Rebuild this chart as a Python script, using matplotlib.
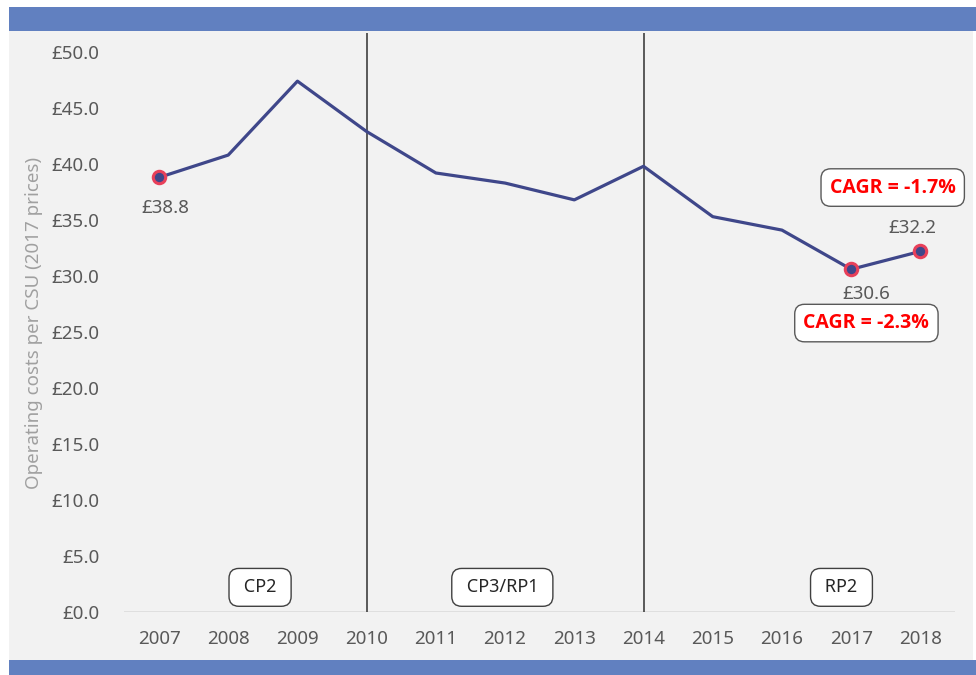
import matplotlib
matplotlib.use("Agg")
import matplotlib.pyplot as plt
from matplotlib.patches import Rectangle

# ---------- data ----------
years = ["2007", "2008", "2009", "2010", "2011", "2012",
         "2013", "2014", "2015", "2016", "2017", "2018"]
cost_per_csu = [38.8, 40.8, 47.4, 42.9, 39.2, 38.3,
                36.8, 39.8, 35.3, 34.1, 30.6, 32.2]
highlight_years = ["2007", "2017", "2018"]
period_breaks = ["2010", "2014"]
period_names = ["CP2", "CP3/RP1", "RP2"]
cagr_labels = ["CAGR = -1.7%", "CAGR = -2.3%"]
y_ticks = [0, 5, 10, 15, 20, 25, 30, 35, 40, 45, 50]

plt.rcParams["font.family"] = ["Noto Sans", "DejaVu Sans"]

W, H = 976, 675
fig = plt.figure(figsize=(W / 100, H / 100), dpi=100)
fig.patch.set_facecolor("white")

# panel background and the two blue bands
def _px_rect(x0, y0, x1, y1, color):
    fig.patches.append(Rectangle((x0 / W, 1 - y1 / H), (x1 - x0) / W, (y1 - y0) / H,
                                 transform=fig.transFigure, facecolor=color,
                                 edgecolor="none", zorder=-10))

_px_rect(9, 31, 973, 660, "#F2F2F2")
_px_rect(9, 7, 976, 31, "#6180C0")
_px_rect(9, 660, 976, 675, "#6180C0")

ax = fig.add_axes([124.4 / W, 1 - 612 / H, (955 - 124.4) / W, (612 - 33) / H])
ax.set_facecolor("none")
ax.set_zorder(5)

x = list(range(len(years)))
ax.plot(x, cost_per_csu, color="#3F478A", lw=2.3, zorder=3)

hx = [years.index(y) for y in highlight_years]
hy = [cost_per_csu[i] for i in hx]
ax.scatter(hx, hy, s=80, color="#3F478A", edgecolor="#E8405A", linewidth=2.2, zorder=4)

# value labels for the highlighted points
label_offsets = {"2007": (6, -31), "2017": (15, -25), "2018": (-8, 23)}
for yr in highlight_years:
    i = years.index(yr)
    ax.annotate(f"£{cost_per_csu[i]:.1f}", (i, cost_per_csu[i]),
                xytext=label_offsets[yr], textcoords="offset pixels",
                ha="center", va="center", fontsize=13.5, color="#595959", zorder=5)

# control period separators
for b in period_breaks:
    ax.axvline(years.index(b), ymin=0, ymax=1, color="#404040", lw=1.2, zorder=2)

ax.axhline(0, color="#DCDCDC", lw=1.2, zorder=1)

box = dict(boxstyle="round,pad=0.55,rounding_size=0.55", facecolor="white",
           edgecolor="#404040", lw=1)
for name, xc in zip(period_names, [1.46, 4.96, 9.86]):
    ax.text(xc, 2.2, f" {name} ", ha="center", va="center", fontsize=13,
            color="#262626", bbox=box, zorder=6)

cagr_box = dict(boxstyle="round,pad=0.45,rounding_size=0.5", facecolor="white",
                edgecolor="#595959", lw=1)
for txt, (xc, yc) in zip(cagr_labels, [(10.6, 37.9), (10.22, 25.8)]):
    ax.text(xc, yc, txt, ha="center", va="center", fontsize=14, fontweight="bold",
            family=["Open Sans", "DejaVu Sans"], color="#FF0000",
            bbox=cagr_box, zorder=6)

ax.set_xlim(-0.5, len(years) - 0.5)
ax.set_ylim(0, 51.7)
ax.set_xticks(x)
ax.set_xticklabels(years)
ax.set_yticks(y_ticks)
ax.set_yticklabels([f"£{v:.1f}" for v in y_ticks])
ax.tick_params(length=0, labelsize=13.5, labelcolor="#595959")
ax.tick_params(axis="x", pad=13)
ax.tick_params(axis="y", pad=18)
for s in ax.spines.values():
    s.set_visible(False)
ax.set_ylabel("Operating costs per CSU (2017 prices)", fontsize=13.5,
              color="#A0A0A0", labelpad=6)

fig.savefig("out.png", dpi=100)
